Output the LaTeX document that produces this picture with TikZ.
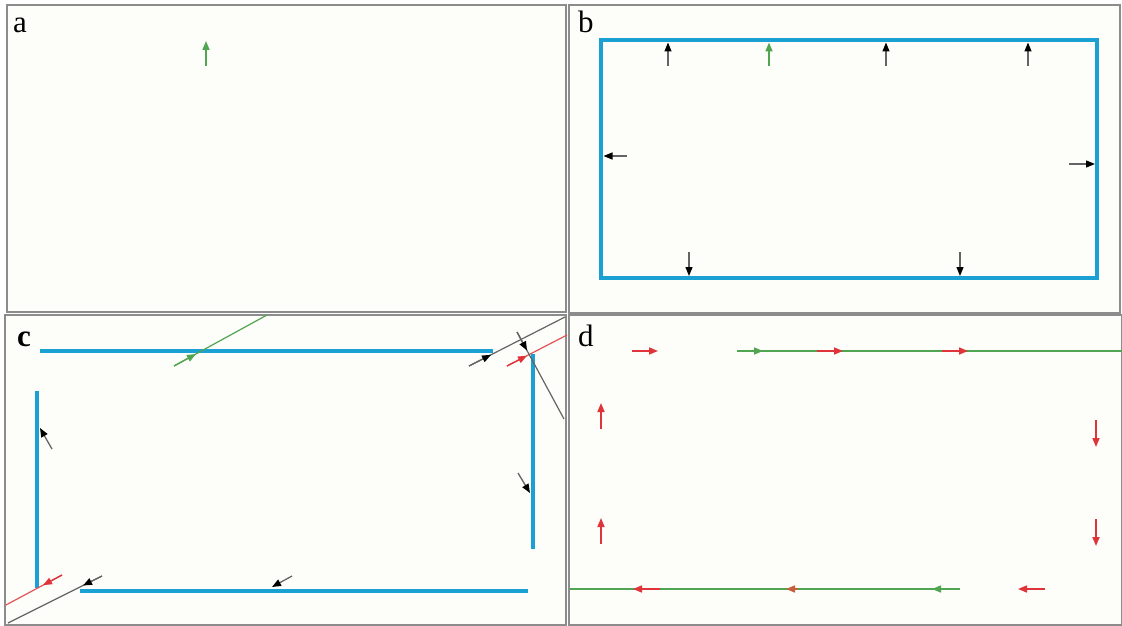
\documentclass[tikz,border=0pt]{standalone}
\usepackage{fontspec}
\setmainfont{Liberation Serif}
\usetikzlibrary{arrows.meta}
\definecolor{wallblue}{RGB}{27,160,212}
\definecolor{raygreen}{RGB}{80,165,80}
\definecolor{rayred}{RGB}{222,52,58}
\definecolor{raybrown}{RGB}{196,96,60}
\definecolor{raygray}{RGB}{100,100,100}
\definecolor{framegray}{RGB}{140,140,140}
\definecolor{paper}{RGB}{253,253,249}
\tikzset{
  panel/.style={draw=framegray, line width=1.4pt, fill=paper},
  wall/.style={draw=wallblue, line width=4pt},
  tipg/.style={-{Triangle[length=9pt,width=7pt]}},
  garrow/.style={tipg, draw=raygreen, line width=1.6pt},
  rarrow/.style={tipg, draw=rayred, line width=1.6pt},
  karrow/.style={-{Triangle[length=9pt,width=7pt,color=black]}, draw=raygray, line width=1.3pt},
  gline/.style={draw=raygreen, line width=1.6pt},
  rline/.style={draw=rayred!85, line width=1.2pt},
  kline/.style={draw=raygray, line width=1.2pt},
  lab/.style={anchor=base west, inner sep=0pt, font=\fontsize{31}{31}\selectfont}
}
\begin{document}
\begin{tikzpicture}[x=1pt,y=-1pt]
\useasboundingbox (0,0) rectangle (1122,626);
\fill[white] (0,0) rectangle (1122,626);
% panels
\draw[panel] (7,5) rectangle (566,312);
\draw[panel] (569,5) rectangle (1120,313);
\draw[panel] (5,315) rectangle (566,625);
\draw[panel] (569,315) rectangle (1122,625);
% labels
\node[lab] (la) at (13,33) {a};
\node[lab] (lb) at (578,33) {b};
\node[lab] (lc) at (17,346) {\bfseries c};
\node[lab] (ld) at (578,346) {d};

% ---------- panel a
\coordinate (a1) at (206,66); \coordinate (a2) at (206,41);
\draw[garrow] (a1) -- (a2);

% ---------- panel b
\draw[wall] (601,40) rectangle (1097,278);
\foreach \x/\s in {668/karrow,769/garrow,886/karrow,1028/karrow}{
  \draw[\s] (\x,66) -- (\x,42.5);
}
\coordinate (bl1) at (627,156); \coordinate (bl2) at (603.5,156);
\draw[karrow] (bl1) -- (bl2);
\coordinate (br1) at (1069,164); \coordinate (br2) at (1095,164);
\draw[karrow] (br1) -- (br2);
\foreach \x in {689,960}{
  \draw[karrow] (\x,252) -- (\x,276);
}

% ---------- panel c
\coordinate (ct1) at (40,351); \coordinate (ct2) at (493,351);
\coordinate (cl1) at (37,391); \coordinate (cl2) at (37,588);
\coordinate (cr1) at (533,354); \coordinate (cr2) at (533,549);
\coordinate (cb1) at (80,591); \coordinate (cb2) at (528,591);
\draw[wall] (ct1) -- (ct2);
\draw[wall] (cl1) -- (cl2);
\draw[wall] (cr1) -- (cr2);
\draw[wall] (cb1) -- (cb2);
% green incoming ray
\coordinate (g1) at (174,366); \coordinate (g2) at (267,315); \coordinate (gt) at (196,354);
\draw[gline, line width=1.2pt] (g1) -- (g2);
\draw[garrow, line width=1.3pt] (g1) -- (gt);
% top-right gray ray
\coordinate (k1) at (469,366); \coordinate (k2) at (565,317); \coordinate (kt) at (491,354.8);
\draw[kline] (k1) -- (k2);
\draw[karrow] (k1) -- (kt);
% top-right red ray
\coordinate (r1) at (507,366); \coordinate (r2) at (567,335); \coordinate (rt) at (527,355.7);
\draw[rline] (r1) -- (r2);
\draw[rarrow, line width=1.3pt] (r1) -- (rt);
% steep gray ray
\coordinate (s1) at (517,332); \coordinate (s2) at (564,419); \coordinate (st) at (527,350.5);
\draw[kline] (s1) -- (s2);
\draw[karrow] (s1) -- (st);
% right wall arrow
\coordinate (cra1) at (518,473); \coordinate (cra2) at (530,493);
\draw[karrow] (cra1) -- (cra2);
% left wall arrow
\coordinate (cla1) at (52,449); \coordinate (cla2) at (40,428);
\draw[karrow] (cla1) -- (cla2);
% bottom-left red ray
\coordinate (br3) at (62,575); \coordinate (br4) at (6,605); \coordinate (brt) at (43,585.2);
\draw[rline] (br3) -- (br4);
\draw[rarrow, line width=1.3pt] (br3) -- (brt);
% bottom-left gray ray
\coordinate (bk1) at (102,576); \coordinate (bk2) at (8,623); \coordinate (bkt) at (83,585.5);
\draw[kline] (bk1) -- (bk2);
\draw[karrow] (bk1) -- (bkt);
% bottom wall arrow
\coordinate (cba1) at (292,576); \coordinate (cba2) at (272,587);
\draw[karrow] (cba1) -- (cba2);

% ---------- panel d
\coordinate (dt1) at (737,351); \coordinate (dt2) at (1122,351);
\draw[gline] (dt1) -- (dt2);
\coordinate (dtg) at (763,351);
\draw[garrow] (dt1) -- (dtg);
\foreach \x in {632,817,942}{
  \draw[rarrow] (\x,351) -- ({\x+26},351);
}
\coordinate (db1) at (960,589); \coordinate (db2) at (570,589);
\draw[gline] (db1) -- (db2);
\coordinate (dbg) at (932,589);
\draw[garrow] (db1) -- (dbg);
\coordinate (dbb1) at (798,589); \coordinate (dbb2) at (786,589);
\draw[-{Triangle[length=9pt,width=7pt]}, draw=raybrown, line width=1.6pt] (dbb1) -- (dbb2);
\draw[rarrow] (660,589) -- (633,589);
\draw[rarrow] (1045,589) -- (1018,589);
\foreach \y in {420,519}{
  \draw[rarrow] (1096,\y) -- (1096,{\y+27});
}
\foreach \y in {429,544}{
  \draw[rarrow] (601,\y) -- (601,{\y-26});
}
\end{tikzpicture}
\end{document}
